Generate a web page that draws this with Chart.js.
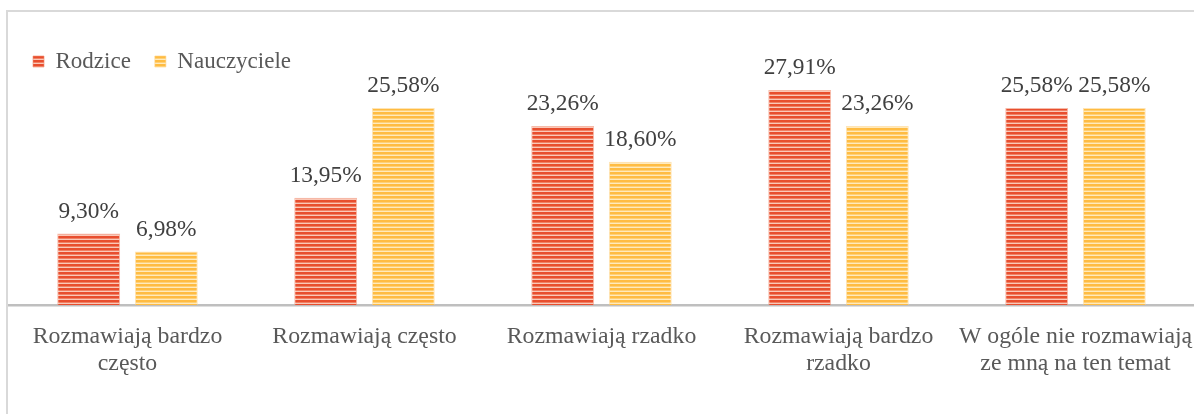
<!DOCTYPE html>
<html lang="pl">
<head>
<meta charset="utf-8">
<title>Rozmowy na temat</title>
<script src="https://cdn.jsdelivr.net/npm/chart.js@4"></script>
<style>
  html, body { margin: 0; padding: 0; background: #fff; }
  #wrap { position: relative; width: 1194px; height: 414px; overflow: hidden; }
  #frame {
    position: absolute; left: 6px; top: 10px; right: -10px; bottom: -10px;
    border-left: 2px solid #d9d9d9; border-top: 2px solid #d9d9d9;
  }
  #chart { position: absolute; left: 0; top: 0; }
</style>
</head>
<body>
<div id="wrap">
  <div id="frame"></div>
  <canvas id="chart" width="1194" height="414"></canvas>
</div>
<script>
const categories = [
  ["Rozmawiają bardzo", "często"],
  ["Rozmawiają często"],
  ["Rozmawiają rzadko"],
  ["Rozmawiają bardzo", "rzadko"],
  ["W ogóle nie rozmawiają", "ze mną na ten temat"]
];
const seriesNames = ["Rodzice", "Nauczyciele"];
const rodzice = [9.30, 13.95, 23.26, 27.91, 25.58];
const nauczyciele = [6.98, 25.58, 18.60, 23.26, 25.58];

const FONT = "'Liberation Serif', 'Times New Roman', serif";

// horizontal stripes like the original fill
function stripes(dark, mid, light) {
  const c = document.createElement("canvas");
  c.width = 4; c.height = 4;
  const g = c.getContext("2d");
  g.fillStyle = dark;  g.fillRect(0, 0, 4, 2);
  g.fillStyle = mid;   g.fillRect(0, 2, 4, 1);
  g.fillStyle = light; g.fillRect(0, 3, 4, 1);
  return g.createPattern(c, "repeat");
}

const redFill = stripes("rgb(232,78,46)", "rgb(240,128,100)", "rgb(250,200,184)");
const yellowFill = stripes("rgb(255,188,66)", "rgb(255,208,118)", "rgb(255,234,188)");

// keep the legend from pushing the plot down too far
const legendHeight = {
  id: "legendHeight",
  beforeLayout(chart) {
    const lg = chart.legend;
    if (lg && !lg._patched) {
      const fit = lg.fit.bind(lg);
      lg.fit = function () { fit(); this.height = 48; };
      lg._patched = true;
    }
  }
};

const valueLabels = {
  id: "valueLabels",
  afterDatasetsDraw(chart) {
    const ctx = chart.ctx;
    ctx.save();
    ctx.font = "23.4px " + FONT;
    ctx.fillStyle = "#404040";
    ctx.textAlign = "center";
    ctx.textBaseline = "middle";
    chart.data.datasets.forEach((ds, i) => {
      chart.getDatasetMeta(i).data.forEach((bar, j) => {
        const txt = ds.data[j].toFixed(2).replace(".", ",") + "%";
        ctx.fillText(txt, bar.x, bar.y - 22);
      });
    });
    ctx.restore();
  }
};

new Chart(document.getElementById("chart"), {
  type: "bar",
  data: {
    labels: categories,
    datasets: [
      {
        label: seriesNames[0],
        data: rodzice,
        backgroundColor: redFill,
        borderColor: "rgba(240,140,110,0.6)",
        borderWidth: 1
      },
      {
        label: seriesNames[1],
        data: nauczyciele,
        backgroundColor: yellowFill,
        borderColor: "rgba(255,210,130,0.6)",
        borderWidth: 1
      }
    ]
  },
  options: {
    responsive: false,
    animation: false,
    devicePixelRatio: 1,
    categoryPercentage: 0.655,
    barPercentage: 0.81,
    layout: { padding: { left: 9, right: 0, top: 26, bottom: 27 } },
    plugins: {
      legend: {
        position: "top",
        align: "start",
        labels: {
          boxWidth: 11,
          boxHeight: 11,
          padding: 24,
          color: "#595959",
          font: { family: FONT, size: 23 }
        }
      },
      tooltip: { enabled: false }
    },
    scales: {
      x: {
        grid: { display: false },
        border: { display: true, color: "#bfbfbf", width: 2.5 },
        ticks: {
          color: "#595959",
          font: { family: FONT, size: 23.8, lineHeight: 1.13 },
          padding: 10,
          maxRotation: 0,
          autoSkip: false
        },
        // labels may reach the edge, as in the original
        afterFit(scale) {
          scale.paddingLeft = 0;
          scale.paddingRight = 0;
        }
      },
      y: {
        display: false,
        min: 0,
        max: 30
      }
    }
  },
  plugins: [legendHeight, valueLabels]
});
</script>
</body>
</html>
